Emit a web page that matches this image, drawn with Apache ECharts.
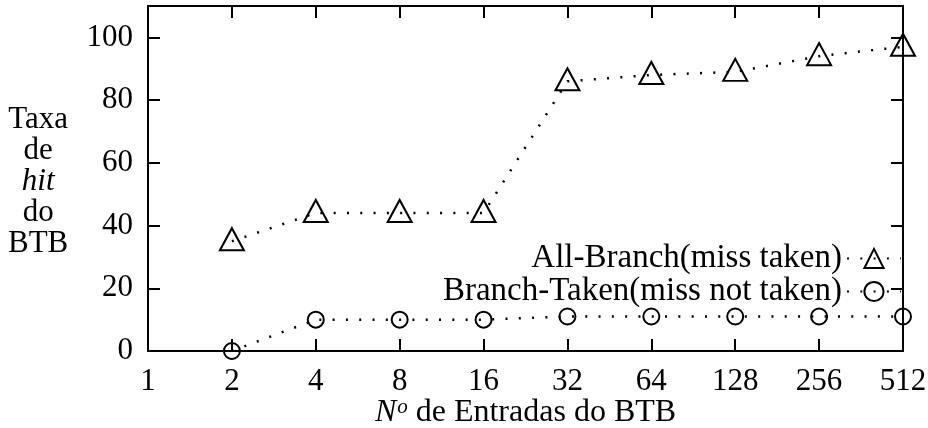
<!DOCTYPE html>
<html>
<head>
<meta charset="utf-8">
<script src="https://cdn.jsdelivr.net/npm/echarts@6/dist/echarts.min.js"></script>
<style>
  html, body { margin: 0; padding: 0; background: #fff; }
  #chart { width: 928px; height: 428px; }
</style>
</head>
<body>
<div id="chart"></div>
<script>
// BTB size (number of entries) on a log2 axis, drawn as categories
const entries = ['1', '2', '4', '8', '16', '32', '64', '128', '256', '512'];
// Hit rate (%) per BTB size, starting at 2 entries
const measuredSizes = ['2', '4', '8', '16', '32', '64', '128', '256', '512'];
const allBranch = [35, 44, 44, 44, 86, 88, 89, 94, 97];
const branchTaken = [0, 10, 10, 10, 11, 11, 11, 11, 11];
const yTicks = { min: 0, max: 110, interval: 20 };

const FONT = '"Liberation Serif", "DejaVu Serif", serif';
const FS = 31;

function pairs(vals) {
  return measuredSizes.map((c, i) => [c, vals[i]]);
}

const dotted = { color: '#000', width: 2.5, type: [2, 11.3], cap: 'butt' };
const axisLine = { show: true, onZero: false, lineStyle: { color: '#000', width: 2 } };
const axisTick = { show: true, inside: true, length: 12, lineStyle: { color: '#000', width: 2 } };

const chart = echarts.init(document.getElementById('chart'), null, { renderer: 'canvas' });
chart.setOption({
  backgroundColor: '#fff',
  animation: false,
  textStyle: { fontFamily: FONT, color: '#000' },
  grid: { left: 148, right: 25, top: 6, bottom: 77, containLabel: false, outerBoundsMode: 'none' },
  legend: {
    orient: 'vertical',
    align: 'right',
    right: 26,
    top: 242,
    padding: 0,
    itemWidth: 54,
    itemHeight: 24,
    itemGap: 0,
    textStyle: { fontFamily: FONT, fontSize: 33, color: '#000', lineHeight: 32, height: 32 },
    data: ['All-Branch(miss taken)', 'Branch-Taken(miss not taken)']
  },
  graphic: [{
    type: 'text',
    left: 8,
    top: 104,
    style: {
      text: '{a|Taxa}\n{a|de}\n{i|hit}\n{a|do}\n{a|BTB}',
      align: 'center',
      fill: '#000',
      rich: {
        a: { fontFamily: FONT, fontSize: FS, lineHeight: 31, align: 'center', fill: '#000' },
        i: { fontFamily: FONT, fontSize: FS, fontStyle: 'italic', lineHeight: 31, align: 'center', fill: '#000' }
      }
    }
  }],
  xAxis: [{
    type: 'category',
    data: entries,
    boundaryGap: false,
    position: 'bottom',
    axisLine: axisLine,
    axisTick: axisTick,
    splitLine: { show: false },
    axisLabel: { fontFamily: FONT, fontSize: FS, color: '#000', margin: 15 },
    name: '{i|N}{s|o}{r| de Entradas do BTB}',
    nameLocation: 'middle',
    nameGap: 46,
    nameMoveOverlap: false,
    nameTextStyle: {
      rich: {
        i: { fontFamily: FONT, fontSize: 32, fontStyle: 'italic', color: '#000', lineHeight: 32 },
        s: { fontFamily: FONT, fontSize: 21, fontStyle: 'italic', color: '#000', verticalAlign: 'top', lineHeight: 32, padding: [0, 0, 12, 1] },
        r: { fontFamily: FONT, fontSize: 32, color: '#000', lineHeight: 32 }
      }
    }
  }, {
    type: 'category',
    data: entries,
    boundaryGap: false,
    position: 'top',
    axisLine: axisLine,
    axisTick: axisTick,
    axisLabel: { show: false },
    splitLine: { show: false }
  }],
  yAxis: [{
    type: 'value',
    min: yTicks.min,
    max: yTicks.max,
    interval: yTicks.interval,
    position: 'left',
    axisLine: axisLine,
    axisTick: axisTick,
    splitLine: { show: false },
    axisLabel: { fontFamily: FONT, fontSize: FS, color: '#000', margin: 15, showMaxLabel: false }
  }, {
    type: 'value',
    min: yTicks.min,
    max: yTicks.max,
    interval: yTicks.interval,
    position: 'right',
    axisLine: axisLine,
    axisTick: axisTick,
    splitLine: { show: false },
    axisLabel: { show: false }
  }],
  series: [{
    name: 'All-Branch(miss taken)',
    type: 'line',
    data: pairs(allBranch),
    symbol: 'triangle',
    symbolSize: [24, 22],
    symbolOffset: [0, -2],
    showAllSymbol: true,
    lineStyle: dotted,
    itemStyle: { color: 'rgba(0,0,0,0)', borderColor: '#000', borderWidth: 2 },
    z: 3
  }, {
    name: 'Branch-Taken(miss not taken)',
    type: 'line',
    data: pairs(branchTaken),
    symbol: 'circle',
    symbolSize: 16,
    showAllSymbol: true,
    lineStyle: dotted,
    itemStyle: { color: 'rgba(0,0,0,0)', borderColor: '#000', borderWidth: 2 },
    z: 3
  }]
});
</script>
</body>
</html>
